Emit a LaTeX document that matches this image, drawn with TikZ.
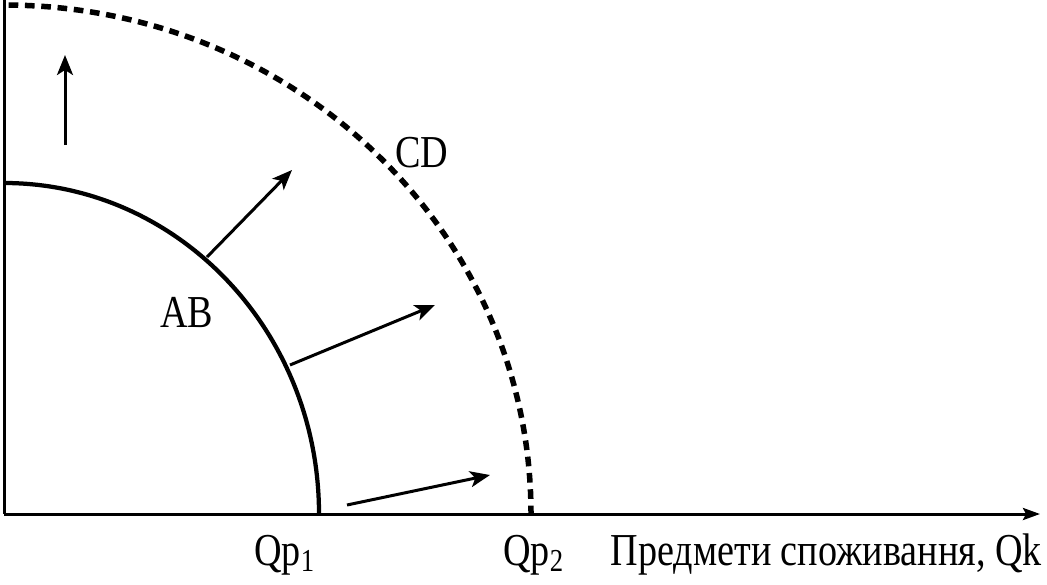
\documentclass[tikz,border=0pt]{standalone}
\usepackage{fontspec}
\setmainfont{Liberation Serif}
\usetikzlibrary{calc,arrows.meta}
\def\ellarc[#1](#2)(#3:#4:#5:#6){\draw[#1] ($(#2)+({#5*cos(#3)},{#6*sin(#3)})$) arc[start angle=#3, end angle=#4, x radius=#5, y radius=#6];}
\tikzset{
	shiftarrow/.style={line width=0.6mm, -{Stealth[length=4mm, width=3.2mm, inset=1mm]}},
	lbl/.style={font=\fontsize{26}{30}\selectfont, inner sep=0pt, anchor=base west, xscale=0.835, transform shape}
}

\begin{document}
\begin{tikzpicture}
			%%%%% START %%%%%
			
			\useasboundingbox (-0.08, -1.4) rectangle (20.86, 10.28);
			
			\coordinate (O) at (0, 0);
			\coordinate (ytop) at (0, 10.28);
			\coordinate (xend) at (20.72, 0);
			
			\draw[line width=0.6mm] (ytop) -- (O);
			\draw[line width=0.6mm, -{Stealth[length=3.4mm, width=2.4mm, inset=0.6mm]}] (O) -- (xend);
			
			\ellarc[line width=0.85mm](O)(90:0:6.3:6.62);
			\ellarc[line width=1.1mm, dash pattern=on 5.5pt off 3.8pt](O)(89.5:0:10.54:10.18);
			
			\coordinate (a1) at (1.22, 7.38);
			\coordinate (b1) at (1.22, 9.18);
			\coordinate (a2) at (4.06, 5.14);
			\coordinate (b2) at (5.76, 6.88);
			\coordinate (a3) at (5.72, 2.98);
			\coordinate (b3) at (8.62, 4.18);
			\coordinate (a4) at (6.86, 0.18);
			\coordinate (b4) at (9.72, 0.78);
			
			\draw[shiftarrow] (a1) -- (b1);
			\draw[shiftarrow] (a2) -- (b2);
			\draw[shiftarrow] (a3) -- (b3);
			\draw[shiftarrow] (a4) -- (b4);
			
			\node[lbl] (cd) at (7.82, 6.94) {CD};
			\node[lbl] (ab) at (3.12, 3.74) {AB};
			\node[lbl] (qp1) at (5.0, -1.02) {Qp\textsubscript{1}};
			\node[lbl] (qp2) at (9.98, -1.02) {Qp\textsubscript{2}};
			\node[lbl, anchor=base east] (qk) at (20.76, -1.02) {Предмети споживання, Qk};
			
			%%%%% END %%%%%
		\end{tikzpicture}
\end{document}
